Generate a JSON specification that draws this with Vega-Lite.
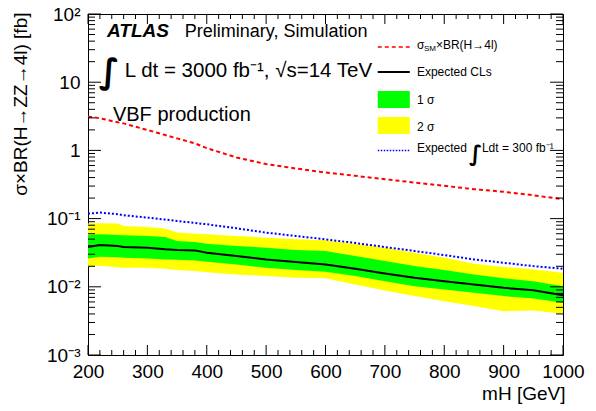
{
  "$schema": "https://vega.github.io/schema/vega-lite/v6.json",
  "width": 475,
  "height": 341,
  "autosize": {"type": "none"},
  "padding": {"left": 88, "top": 14, "right": 33, "bottom": 56},
  "background": "white",
  "config": {"view": {"stroke": "black", "strokeWidth": 1}, "font": "Liberation Sans",
    "axis": {"grid": false, "domain": false, "ticks": false, "labelFlush": false, "labelOverlap": false, "labelBound": false}},
  "datasets": {
    "d": [
      {"m": 200, "lo2": 0.0197, "lo1": 0.0261, "med": 0.0383, "hi1": 0.0575, "hi2": 0.0844, "exp300": 0.118, "sm": 3.13},
      {"m": 220, "lo2": 0.0204, "lo1": 0.0276, "med": 0.0410, "hi1": 0.0589, "hi2": 0.0854, "exp300": 0.1225, "sm": 2.96},
      {"m": 250, "lo2": 0.0193, "lo1": 0.0272, "med": 0.0396, "hi1": 0.0575, "hi2": 0.0844, "exp300": 0.116, "sm": 2.58},
      {"m": 260, "lo2": 0.0190, "lo1": 0.0267, "med": 0.0383, "hi1": 0.0569, "hi2": 0.078, "exp300": 0.112, "sm": 2.49},
      {"m": 300, "lo2": 0.0190, "lo1": 0.0261, "med": 0.0375, "hi1": 0.0556, "hi2": 0.0754, "exp300": 0.1034, "sm": 1.99},
      {"m": 330, "lo2": 0.0184, "lo1": 0.0252, "med": 0.0354, "hi1": 0.0537, "hi2": 0.0713, "exp300": 0.0967, "sm": 1.68},
      {"m": 350, "lo2": 0.0176, "lo1": 0.0250, "med": 0.0346, "hi1": 0.047, "hi2": 0.0623, "exp300": 0.0924, "sm": 1.5},
      {"m": 380, "lo2": 0.0170, "lo1": 0.0244, "med": 0.0342, "hi1": 0.0454, "hi2": 0.0601, "exp300": 0.0863, "sm": 1.27},
      {"m": 400, "lo2": 0.0164, "lo1": 0.0233, "med": 0.0316, "hi1": 0.0428, "hi2": 0.0589, "exp300": 0.0826, "sm": 1.08},
      {"m": 450, "lo2": 0.0152, "lo1": 0.0213, "med": 0.0282, "hi1": 0.0396, "hi2": 0.0556, "exp300": 0.0721, "sm": 0.789},
      {"m": 500, "lo2": 0.0144, "lo1": 0.0190, "med": 0.0252, "hi1": 0.0375, "hi2": 0.0526, "exp300": 0.0623, "sm": 0.63},
      {"m": 550, "lo2": 0.0136, "lo1": 0.0176, "med": 0.0231, "hi1": 0.0346, "hi2": 0.0497, "exp300": 0.0556, "sm": 0.543},
      {"m": 600, "lo2": 0.0133, "lo1": 0.0166, "med": 0.0213, "hi1": 0.0335, "hi2": 0.048, "exp300": 0.0497, "sm": 0.474},
      {"m": 650, "lo2": 0.0108, "lo1": 0.0144, "med": 0.0184, "hi1": 0.0282, "hi2": 0.0428, "exp300": 0.0439, "sm": 0.424},
      {"m": 700, "lo2": 0.00884, "lo1": 0.0121, "med": 0.0157, "hi1": 0.0238, "hi2": 0.0375, "exp300": 0.0383, "sm": 0.378},
      {"m": 750, "lo2": 0.0073, "lo1": 0.0102, "med": 0.0136, "hi1": 0.0201, "hi2": 0.0316, "exp300": 0.0335, "sm": 0.338},
      {"m": 800, "lo2": 0.00615, "lo1": 0.00914, "med": 0.0121, "hi1": 0.0176, "hi2": 0.0267, "exp300": 0.0292, "sm": 0.302},
      {"m": 850, "lo2": 0.00521, "lo1": 0.00817, "med": 0.0108, "hi1": 0.0152, "hi2": 0.0218, "exp300": 0.0252, "sm": 0.27},
      {"m": 900, "lo2": 0.00439, "lo1": 0.0073, "med": 0.00967, "hi1": 0.0133, "hi2": 0.0195, "exp300": 0.0225, "sm": 0.247},
      {"m": 950, "lo2": 0.0045, "lo1": 0.00673, "med": 0.00893, "hi1": 0.0121, "hi2": 0.018, "exp300": 0.0201, "sm": 0.22},
      {"m": 1000, "lo2": 0.00401, "lo1": 0.00582, "med": 0.00753, "hi1": 0.0102, "hi2": 0.0161, "exp300": 0.0184, "sm": 0.192}
    ],
    "xmaj": [{"t": 200}, {"t": 300}, {"t": 400}, {"t": 500}, {"t": 600}, {"t": 700}, {"t": 800}, {"t": 900}, {"t": 1000}],
    "xmin": [{"t": 220}, {"t": 240}, {"t": 260}, {"t": 280}, {"t": 320}, {"t": 340}, {"t": 360}, {"t": 380}, {"t": 420}, {"t": 440}, {"t": 460}, {"t": 480}, {"t": 520}, {"t": 540}, {"t": 560}, {"t": 580}, {"t": 620}, {"t": 640}, {"t": 660}, {"t": 680}, {"t": 720}, {"t": 740}, {"t": 760}, {"t": 780}, {"t": 820}, {"t": 840}, {"t": 860}, {"t": 880}, {"t": 920}, {"t": 940}, {"t": 960}, {"t": 980}],
    "ymaj": [{"v": 0.001}, {"v": 0.01}, {"v": 0.1}, {"v": 1}, {"v": 10}, {"v": 100}],
    "ymin": [{"v": 0.002}, {"v": 0.003}, {"v": 0.004}, {"v": 0.005}, {"v": 0.006}, {"v": 0.007}, {"v": 0.008}, {"v": 0.009},
             {"v": 0.02}, {"v": 0.03}, {"v": 0.04}, {"v": 0.05}, {"v": 0.06}, {"v": 0.07}, {"v": 0.08}, {"v": 0.09},
             {"v": 0.2}, {"v": 0.3}, {"v": 0.4}, {"v": 0.5}, {"v": 0.6}, {"v": 0.7}, {"v": 0.8}, {"v": 0.9},
             {"v": 2}, {"v": 3}, {"v": 4}, {"v": 5}, {"v": 6}, {"v": 7}, {"v": 8}, {"v": 9},
             {"v": 20}, {"v": 30}, {"v": 40}, {"v": 50}, {"v": 60}, {"v": 70}, {"v": 80}, {"v": 90}]
  },
  "layer": [
    {
      "data": {"name": "d"},
      "mark": {"type": "area", "color": "#ffff00", "opacity": 1},
      "encoding": {
        "x": {"field": "m", "type": "quantitative",
          "scale": {"domain": [200, 1000], "nice": false, "zero": false},
          "axis": {"orient": "bottom",
            "values": [200,300,400,500,600,700,800,900,1000],
            "format": "d",
            "labelPadding": 7,
            "labelFontSize": 19, "labelColor": "black", "labelFont": "Liberation Sans",
            "title": "mH [GeV]", "titleFont": "Liberation Sans", "titleFontSize": 19, "titleFontWeight": "normal", "titleColor": "black",
            "titleAnchor": "end", "titleAlign": "right", "titleBaseline": "middle", "titleX": 477, "titleY": 38}},
        "y": {"field": "lo2", "type": "quantitative",
          "scale": {"type": "log", "domain": [0.001, 100], "nice": false},
          "axis": {"orient": "left",
            "values": [0.001, 0.01, 0.1, 1, 10, 100],
            "labelExpr": "datum.value == 100 ? '10²' : datum.value == 10 ? '10' : datum.value == 1 ? '1' : datum.value == 0.1 ? '10⁻¹' : datum.value == 0.01 ? '10⁻²' : datum.value == 0.001 ? '10⁻³' : ''",
            "labelPadding": 8,
            "labelFontSize": 19, "labelColor": "black", "labelFont": "Liberation Sans",
            "title": "σ×BR(H→ZZ→4l) [fb]", "titleFont": "Liberation Sans", "titleFontSize": 19, "titleFontWeight": "normal", "titleColor": "black",
            "titleAnchor": "end", "titleAlign": "right", "titleBaseline": "middle", "titleAngle": -90, "titleX": -68, "titleY": -2}},
        "y2": {"field": "hi2"}
      }
    },
    {
      "data": {"name": "d"},
      "mark": {"type": "area", "color": "#00ff00", "opacity": 1},
      "encoding": {
        "x": {"field": "m", "type": "quantitative", "axis": null},
        "y": {"field": "lo1", "type": "quantitative", "axis": null},
        "y2": {"field": "hi1"}
      }
    },
    {
      "data": {"name": "d"},
      "mark": {"type": "line", "color": "black", "strokeWidth": 2},
      "encoding": {
        "x": {"field": "m", "type": "quantitative", "axis": null},
        "y": {"field": "med", "type": "quantitative", "axis": null}
      }
    },
    {
      "data": {"name": "d"},
      "mark": {"type": "line", "color": "#0000ff", "strokeWidth": 2, "strokeDash": [2, 2]},
      "encoding": {
        "x": {"field": "m", "type": "quantitative", "axis": null},
        "y": {"field": "exp300", "type": "quantitative", "axis": null}
      }
    },
    {
      "data": {"name": "d"},
      "mark": {"type": "line", "color": "#ff0000", "strokeWidth": 2, "strokeDash": [4, 3]},
      "encoding": {
        "x": {"field": "m", "type": "quantitative", "axis": null},
        "y": {"field": "sm", "type": "quantitative", "axis": null}
      }
    },
    {
      "data": {"name": "xmaj"},
      "mark": {"type": "tick", "orient": "vertical", "color": "black", "opacity": 1, "size": 10, "thickness": 1},
      "encoding": {"x": {"field": "t", "type": "quantitative", "axis": null}, "y": {"datum": 0.001184, "type": "quantitative", "axis": null}}
    },
    {
      "data": {"name": "xmin"},
      "mark": {"type": "tick", "orient": "vertical", "color": "black", "opacity": 1, "size": 5, "thickness": 1},
      "encoding": {"x": {"field": "t", "type": "quantitative", "axis": null}, "y": {"datum": 0.001088, "type": "quantitative", "axis": null}}
    },
    {
      "data": {"name": "xmaj"},
      "mark": {"type": "tick", "orient": "vertical", "color": "black", "opacity": 1, "size": 10, "thickness": 1},
      "encoding": {"x": {"field": "t", "type": "quantitative", "axis": null}, "y": {"datum": 84.45, "type": "quantitative", "axis": null}}
    },
    {
      "data": {"name": "xmin"},
      "mark": {"type": "tick", "orient": "vertical", "color": "black", "opacity": 1, "size": 5, "thickness": 1},
      "encoding": {"x": {"field": "t", "type": "quantitative", "axis": null}, "y": {"datum": 91.9, "type": "quantitative", "axis": null}}
    },
    {
      "data": {"name": "ymaj"},
      "mark": {"type": "tick", "orient": "horizontal", "color": "black", "opacity": 1, "size": 13, "thickness": 1},
      "encoding": {"y": {"field": "v", "type": "quantitative", "axis": null}, "x": {"datum": 210.9, "type": "quantitative", "axis": null}}
    },
    {
      "data": {"name": "ymin"},
      "mark": {"type": "tick", "orient": "horizontal", "color": "black", "opacity": 1, "size": 7, "thickness": 1},
      "encoding": {"y": {"field": "v", "type": "quantitative", "axis": null}, "x": {"datum": 205.9, "type": "quantitative", "axis": null}}
    },
    {
      "data": {"name": "ymaj"},
      "mark": {"type": "tick", "orient": "horizontal", "color": "black", "opacity": 1, "size": 13, "thickness": 1},
      "encoding": {"y": {"field": "v", "type": "quantitative", "axis": null}, "x": {"datum": 989.1, "type": "quantitative", "axis": null}}
    },
    {
      "data": {"name": "ymin"},
      "mark": {"type": "tick", "orient": "horizontal", "color": "black", "opacity": 1, "size": 7, "thickness": 1},
      "encoding": {"y": {"field": "v", "type": "quantitative", "axis": null}, "x": {"datum": 994.1, "type": "quantitative", "axis": null}}
    },
    {
      "data": {"values": [{}]},
      "mark": {"type": "text", "text": "ATLAS", "font": "Liberation Sans", "fontSize": 19, "fontWeight": "bold", "fontStyle": "italic", "align": "left", "baseline": "alphabetic", "color": "black"},
      "encoding": {"x": {"datum": 232, "type": "quantitative", "axis": null}, "y": {"datum": 46, "type": "quantitative", "axis": null}}
    },
    {
      "data": {"values": [{}]},
      "mark": {"type": "text", "text": "Preliminary, Simulation", "font": "Liberation Sans", "fontSize": 18, "align": "left", "baseline": "alphabetic", "color": "black"},
      "encoding": {"x": {"datum": 363, "type": "quantitative", "axis": null}, "y": {"datum": 46, "type": "quantitative", "axis": null}}
    },
    {
      "data": {"values": [{}]},
      "mark": {"type": "text", "text": "∫", "font": "DejaVu Sans", "fontSize": 34, "fontWeight": "bold", "align": "left", "baseline": "middle", "color": "black"},
      "encoding": {"x": {"datum": 218, "type": "quantitative", "axis": null}, "y": {"datum": 13.6, "type": "quantitative", "axis": null}}
    },
    {
      "data": {"values": [{}]},
      "mark": {"type": "text", "text": "L dt = 3000 fb⁻¹, √s=14 TeV", "font": "Liberation Sans", "fontSize": 20.5, "align": "left", "baseline": "alphabetic", "color": "black"},
      "encoding": {"x": {"datum": 262, "type": "quantitative", "axis": null}, "y": {"datum": 11.8, "type": "quantitative", "axis": null}}
    },
    {
      "data": {"values": [{}]},
      "mark": {"type": "text", "text": "VBF production", "font": "Liberation Sans", "fontSize": 20, "align": "left", "baseline": "alphabetic", "color": "black"},
      "encoding": {"x": {"datum": 242, "type": "quantitative", "axis": null}, "y": {"datum": 2.72, "type": "quantitative", "axis": null}}
    },
    {
      "data": {"values": [{}]},
      "mark": {"type": "rule", "color": "#ff0000", "strokeWidth": 1.5, "strokeDash": [4, 3]},
      "encoding": {"x": {"datum": 688, "type": "quantitative", "axis": null}, "x2": {"datum": 742}, "y": {"datum": 32.8, "type": "quantitative", "axis": null}}
    },
    {
      "data": {"values": [{}]},
      "mark": {"type": "rule", "color": "black", "strokeWidth": 2},
      "encoding": {"x": {"datum": 688, "type": "quantitative", "axis": null}, "x2": {"datum": 742}, "y": {"datum": 14.1, "type": "quantitative", "axis": null}}
    },
    {
      "data": {"values": [{}]},
      "mark": {"type": "rect", "color": "#00ff00"},
      "encoding": {"x": {"datum": 688, "type": "quantitative", "axis": null}, "x2": {"datum": 742}, "y": {"datum": 7.43, "type": "quantitative", "axis": null}, "y2": {"datum": 4.19}}
    },
    {
      "data": {"values": [{}]},
      "mark": {"type": "rect", "color": "#ffff00"},
      "encoding": {"x": {"datum": 688, "type": "quantitative", "axis": null}, "x2": {"datum": 742}, "y": {"datum": 3.09, "type": "quantitative", "axis": null}, "y2": {"datum": 1.74}}
    },
    {
      "data": {"values": [{}]},
      "mark": {"type": "rule", "color": "#0000ff", "strokeWidth": 1.5, "strokeDash": [1.5, 1.5]},
      "encoding": {"x": {"datum": 688, "type": "quantitative", "axis": null}, "x2": {"datum": 742}, "y": {"datum": 1.0, "type": "quantitative", "axis": null}}
    },
    {
      "data": {"values": [{}]},
      "mark": {"type": "text", "text": "σ", "font": "Liberation Sans", "fontSize": 12, "align": "left", "baseline": "middle", "color": "black"},
      "encoding": {"x": {"datum": 754, "type": "quantitative", "axis": null}, "y": {"datum": 35.1, "type": "quantitative", "axis": null}}
    },
    {
      "data": {"values": [{}]},
      "mark": {"type": "text", "text": "SM", "font": "Liberation Sans", "fontSize": 8, "align": "left", "baseline": "middle", "dx": 7, "dy": 4, "color": "black"},
      "encoding": {"x": {"datum": 754, "type": "quantitative", "axis": null}, "y": {"datum": 35.1, "type": "quantitative", "axis": null}}
    },
    {
      "data": {"values": [{}]},
      "mark": {"type": "text", "text": "×BR(H→4l)", "font": "Liberation Sans", "fontSize": 12, "align": "left", "baseline": "middle", "dx": 19, "color": "black"},
      "encoding": {"x": {"datum": 754, "type": "quantitative", "axis": null}, "y": {"datum": 35.1, "type": "quantitative", "axis": null}}
    },
    {
      "data": {"values": [{}]},
      "mark": {"type": "text", "text": "Expected CLs", "font": "Liberation Sans", "fontSize": 12, "align": "left", "baseline": "middle", "color": "black"},
      "encoding": {"x": {"datum": 754, "type": "quantitative", "axis": null}, "y": {"datum": 14.1, "type": "quantitative", "axis": null}}
    },
    {
      "data": {"values": [{}]},
      "mark": {"type": "text", "text": "1 σ", "font": "Liberation Sans", "fontSize": 12, "align": "left", "baseline": "middle", "color": "black"},
      "encoding": {"x": {"datum": 754, "type": "quantitative", "axis": null}, "y": {"datum": 5.48, "type": "quantitative", "axis": null}}
    },
    {
      "data": {"values": [{}]},
      "mark": {"type": "text", "text": "2 σ", "font": "Liberation Sans", "fontSize": 12, "align": "left", "baseline": "middle", "color": "black"},
      "encoding": {"x": {"datum": 754, "type": "quantitative", "axis": null}, "y": {"datum": 2.2, "type": "quantitative", "axis": null}}
    },
    {
      "data": {"values": [{}]},
      "mark": {"type": "text", "text": "Expected", "font": "Liberation Sans", "fontSize": 12, "align": "left", "baseline": "middle", "color": "black"},
      "encoding": {"x": {"datum": 754, "type": "quantitative", "axis": null}, "y": {"datum": 1.08, "type": "quantitative", "axis": null}}
    },
    {
      "data": {"values": [{}]},
      "mark": {"type": "text", "text": "∫", "font": "DejaVu Sans", "fontSize": 22, "fontWeight": "bold", "align": "left", "baseline": "middle", "dx": 52, "color": "black"},
      "encoding": {"x": {"datum": 754, "type": "quantitative", "axis": null}, "y": {"datum": 0.9, "type": "quantitative", "axis": null}}
    },
    {
      "data": {"values": [{}]},
      "mark": {"type": "text", "text": "Ldt = 300 fb⁻¹", "font": "Liberation Sans", "fontSize": 12, "align": "left", "baseline": "middle", "dx": 65, "color": "black"},
      "encoding": {"x": {"datum": 754, "type": "quantitative", "axis": null}, "y": {"datum": 1.08, "type": "quantitative", "axis": null}}
    }
  ],
  "resolve": {"axis": {"x": "independent", "y": "independent"}}
}
